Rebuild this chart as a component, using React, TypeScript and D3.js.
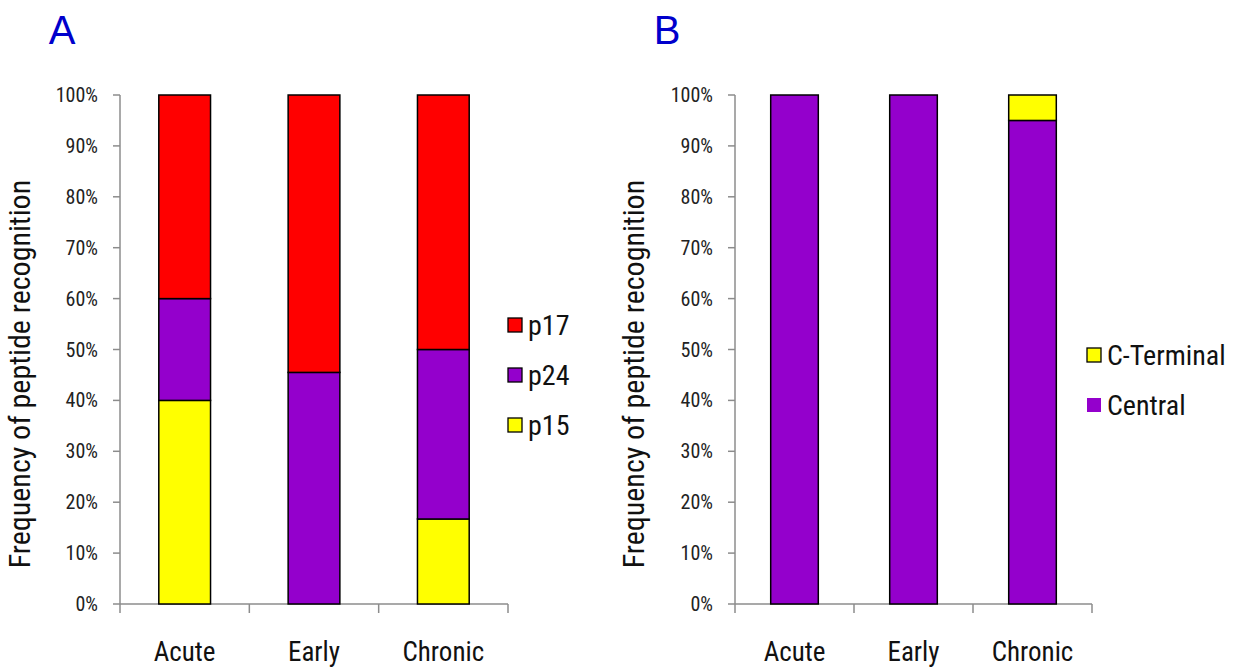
import React from "react";
import * as d3 from "d3";

const categories = ["Acute", "Early", "Chronic"];
const yTicks = [0, 0.1, 0.2, 0.3, 0.4, 0.5, 0.6, 0.7, 0.8, 0.9, 1.0];

// Panel A (stack order bottom to top)
const seriesA = ["p15", "p24", "p17"];
const p15 = [0.4, 0, 0.167];
const p24 = [0.2, 0.455, 0.333];
const p17 = [0.4, 0.545, 0.5];

// Panel B
const seriesB = ["Central", "C-Terminal"];
const central = [1.0, 1.0, 0.95];
const cTerminal = [0, 0, 0.05];

const colors: Record<string, string> = {
  p17: "#ff0000",
  p24: "#9400cc",
  p15: "#ffff00",
  Central: "#9400cc",
  "C-Terminal": "#ffff00",
};

const FONT = "'Liberation Sans Narrow', 'Roboto Condensed', 'Liberation Sans', sans-serif";

type PanelProps = {
  x0: number;
  x1: number;
  series: string[];
  values: number[][];
  legend: { name: string; y: number; border: boolean }[];
  legendX: number;
  letter: string;
  letterX: number;
  titleX: number;
};

function Panel(p: PanelProps) {
  const y = d3.scaleLinear().domain([0, 1]).range([604, 95]);
  const x = d3.scaleBand().domain(categories).range([p.x0, p.x1]).paddingInner(0.6).paddingOuter(0.3);
  const band = d3.scaleBand().domain(categories).range([p.x0, p.x1]);
  const table = categories.map((c, i) => {
    const o: any = { cat: c };
    p.series.forEach((s, j) => (o[s] = p.values[j][i]));
    return o;
  });
  const stack = d3.stack<any>().keys(p.series)(table);
  const axisColor = "#8c8c8c";
  return (
    <g>
      <text x={p.letterX} y={44} fill="#0000cc" fontSize={40} fontFamily="'Liberation Sans', sans-serif" textAnchor="middle">
        {p.letter}
      </text>
      <text
        transform={`translate(${p.titleX},${374}) rotate(-90)`}
        textAnchor="middle"
        fontSize={30}
        fontFamily={FONT}
        fill="#111"
      >
        Frequency of peptide recognition
      </text>
      {/* y axis */}
      <line x1={p.x0} x2={p.x0} y1={y(0)} y2={y(1)} stroke={axisColor} strokeWidth={1.5} />
      {yTicks.map((t) => (
        <g key={t}>
          <line x1={p.x0 - 7} x2={p.x0} y1={y(t)} y2={y(t)} stroke={axisColor} strokeWidth={1.5} />
          <text x={p.x0 - 22} y={y(t)} dy="0.35em" textAnchor="end" fontSize={20} fontFamily={FONT} fill="#222">
            {d3.format(".0%")(t)}
          </text>
        </g>
      ))}
      {/* x axis */}
      <line x1={p.x0} x2={p.x1} y1={y(0)} y2={y(0)} stroke={axisColor} strokeWidth={1.5} />
      {[...categories.map((c) => band(c)!), p.x1].map((v, i) => (
        <line key={i} x1={v} x2={v} y1={y(0)} y2={y(0) + 9} stroke={axisColor} strokeWidth={1.5} />
      ))}
      {categories.map((c) => (
        <text key={c} x={band(c)! + band.bandwidth() / 2} y={661} textAnchor="middle" fontSize={27} fontFamily={FONT} fill="#111">
          {c}
        </text>
      ))}
      {stack.map((layer) =>
        layer.map((d, i) =>
          d[1] - d[0] > 0 ? (
            <rect
              key={layer.key + i}
              x={x(categories[i])}
              width={x.bandwidth()}
              y={y(d[1])}
              height={y(d[0]) - y(d[1])}
              fill={colors[layer.key]}
              stroke="#000"
              strokeWidth={1.5}
            />
          ) : null
        )
      )}
      {p.legend.map((l) => (
        <g key={l.name}>
          <rect
            x={p.legendX}
            y={l.y - 7}
            width={14}
            height={14}
            fill={colors[l.name]}
            stroke={l.border ? "#000" : "none"}
            strokeWidth={1.3}
          />
          <text x={p.legendX + 20} y={l.y} dy="0.35em" fontSize={28} fontFamily={FONT} fill="#111">
            {l.name}
          </text>
        </g>
      ))}
    </g>
  );
}

export default function App() {
  return (
    <svg width={1237} height={668} style={{ position: "absolute", left: 0, top: 0, background: "#fff" }}>
      <Panel
        x0={120}
        x1={508}
        series={seriesA}
        values={[p15, p24, p17]}
        legend={[
          { name: "p17", y: 325, border: true },
          { name: "p24", y: 375, border: true },
          { name: "p15", y: 425, border: true },
        ]}
        legendX={508}
        letter="A"
        letterX={62}
        titleX={30}
      />
      <Panel
        x0={735}
        x1={1092}
        series={seriesB}
        values={[central, cTerminal]}
        legend={[
          { name: "C-Terminal", y: 355, border: true },
          { name: "Central", y: 405, border: false },
        ]}
        legendX={1087}
        letter="B"
        letterX={667}
        titleX={644}
      />
    </svg>
  );
}
